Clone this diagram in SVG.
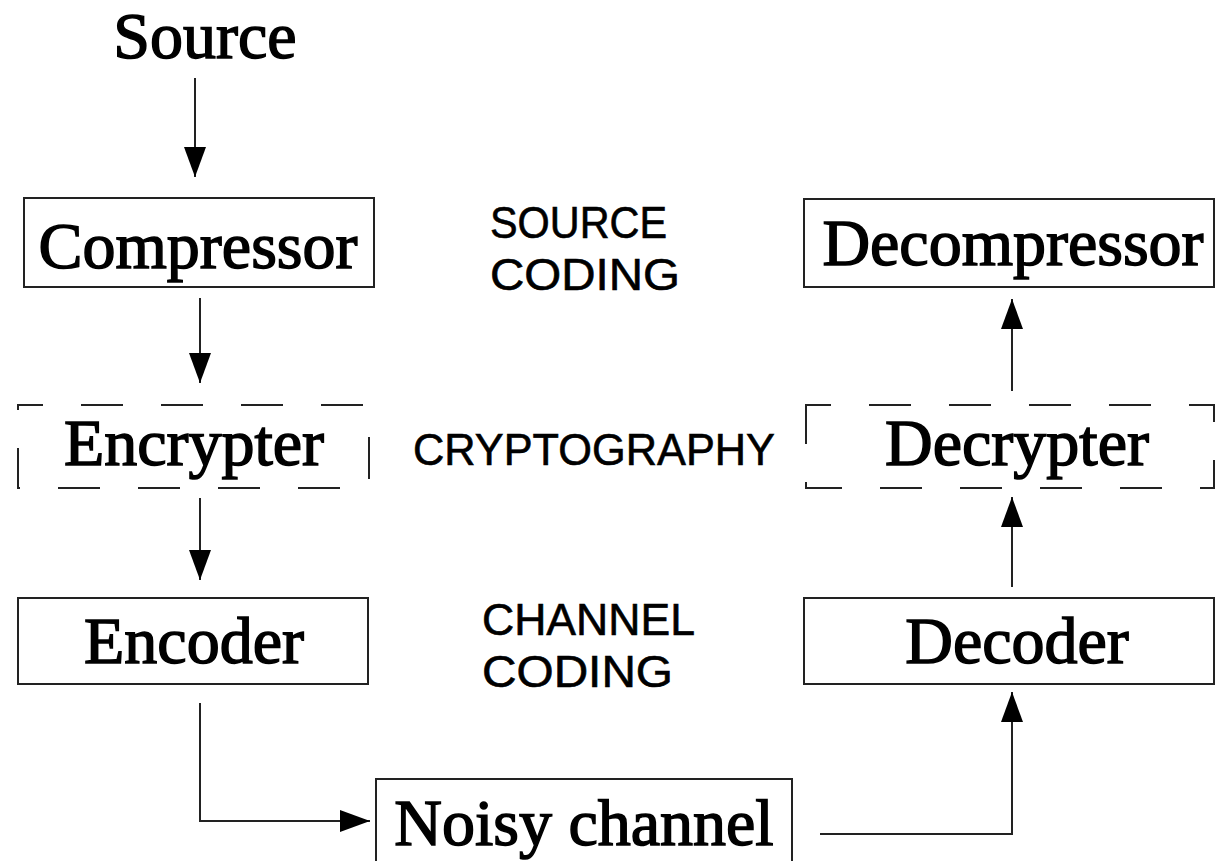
<svg xmlns="http://www.w3.org/2000/svg" width="1216" height="861" viewBox="0 0 1216 861">
<style>
.box{fill:#fff;stroke:#222;stroke-width:2}
.dash{fill:#fff;stroke:#222;stroke-width:2;stroke-dasharray:42 38;stroke-dashoffset:17}
.t{font-family:"Liberation Serif","Times New Roman",serif;font-size:66px;fill:#000;stroke:#000;stroke-width:1.5;text-anchor:middle}
.s{font-family:"Liberation Sans",Arial,sans-serif;font-size:44px;fill:#000;stroke:#000;stroke-width:0.6}
.c{fill:none;stroke:#222;stroke-width:2}
</style>
<defs>
<marker id="ah" markerUnits="userSpaceOnUse" markerWidth="32" markerHeight="24" refX="30" refY="11" orient="auto">
<path d="M0,0 L30,11 L0,22 Z" fill="#000"/>
</marker>
</defs>
<rect width="1216" height="861" fill="#fff"/>
<g id="connectors">
<line class="c" x1="195" y1="78" x2="195" y2="177" marker-end="url(#ah)"/>
<line class="c" x1="200" y1="298" x2="200" y2="383" marker-end="url(#ah)"/>
<line class="c" x1="200" y1="498" x2="200" y2="580" marker-end="url(#ah)"/>
<polyline class="c" points="200,703 200,821 370,821" marker-end="url(#ah)"/>
<polyline class="c" points="820,834 1012,834 1012,692" marker-end="url(#ah)"/>
<line class="c" x1="1012" y1="587" x2="1012" y2="497" marker-end="url(#ah)"/>
<line class="c" x1="1012" y1="391" x2="1012" y2="299" marker-end="url(#ah)"/>
</g>
<g id="source"><text class="t" x="205" y="58">Source</text></g>
<g id="compressor"><rect class="box" x="24" y="198" width="350" height="89"/><text class="t" x="198" y="268">Compressor</text></g>
<g id="encrypter"><rect class="dash" x="18" y="405" width="351" height="83"/><text class="t" x="194" y="465">Encrypter</text></g>
<g id="encoder"><rect class="box" x="18" y="598" width="350" height="86"/><text class="t" x="194" y="663">Encoder</text></g>
<g id="noisy-channel"><rect class="box" x="376" y="779" width="416" height="100"/><text class="t" x="584" y="845">Noisy channel</text></g>
<g id="decompressor"><rect class="box" x="804" y="199" width="410" height="88"/><text class="t" x="1013" y="265">Decompressor</text></g>
<g id="decrypter"><rect class="dash" x="806" y="405" width="408" height="83"/><text class="t" x="1017" y="465">Decrypter</text></g>
<g id="decoder"><rect class="box" x="804" y="598" width="410" height="86"/><text class="t" x="1017" y="663">Decoder</text></g>
<g id="source-coding-label"><text class="s" x="490" y="238" textLength="177" lengthAdjust="spacingAndGlyphs">SOURCE</text><text class="s" x="490" y="290" textLength="190" lengthAdjust="spacingAndGlyphs">CODING</text></g>
<g id="cryptography-label"><text class="s" x="413" y="465" textLength="362" lengthAdjust="spacingAndGlyphs">CRYPTOGRAPHY</text></g>
<g id="channel-coding-label"><text class="s" x="482" y="635" textLength="213" lengthAdjust="spacingAndGlyphs">CHANNEL</text><text class="s" x="482" y="687" textLength="191" lengthAdjust="spacingAndGlyphs">CODING</text></g>
</svg>
